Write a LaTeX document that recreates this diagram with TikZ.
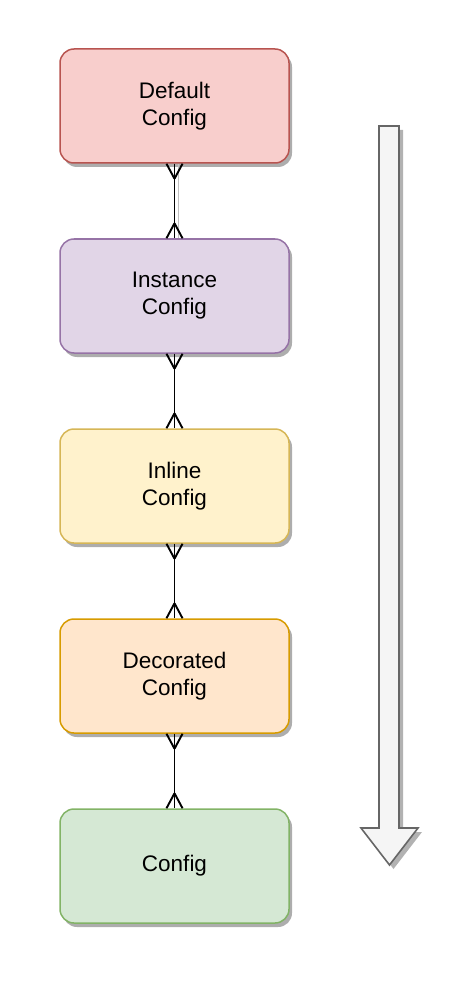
\documentclass[tikz,border=0pt]{standalone}
\usepackage{fontspec}
\setmainfont{Liberation Sans}
\usetikzlibrary{calc,shadows}
\definecolor{redfill}{HTML}{F8CECC}\definecolor{redline}{HTML}{B85450}
\definecolor{purfill}{HTML}{E1D5E7}\definecolor{purline}{HTML}{9673A6}
\definecolor{yelfill}{HTML}{FFF2CC}\definecolor{yelline}{HTML}{D6B656}
\definecolor{orafill}{HTML}{FFE6CC}\definecolor{oraline}{HTML}{D79B00}
\definecolor{grefill}{HTML}{D5E8D4}\definecolor{greline}{HTML}{82B366}
\definecolor{arrfill}{HTML}{F5F5F5}\definecolor{arrline}{HTML}{666666}
\tikzset{
  cfgbox/.style={draw=#1line, fill=#1fill, line width=1.5pt, rounded corners=14pt,
    minimum width=229pt, minimum height=114pt, align=center,
    font=\fontsize{22.5}{27}\selectfont,
    drop shadow={shadow xshift=3pt, shadow yshift=-4pt, fill=black!40, opacity=0.8}},
  link/.style={draw=black, line width=1.9pt},
}
\newcommand{\crowlink}[2]{%
  \draw[link] (#1.south) -- (#2.north);
  \draw[link] ($(#1.south)+(0,15)$) -- ($(#1.south)+(-8,0)$);
  \draw[link] ($(#1.south)+(0,15)$) -- ($(#1.south)+(8,0)$);
  \draw[link] ($(#2.north)+(0,-15)$) -- ($(#2.north)+(-8,0)$);
  \draw[link] ($(#2.north)+(0,-15)$) -- ($(#2.north)+(8,0)$);
}
\begin{document}
\begin{tikzpicture}[x=1pt,y=-1pt]
\useasboundingbox (0,0) rectangle (470,984);
\node[cfgbox=red] (def) at (174.5,106) {Default\\Config};
\node[cfgbox=pur] (ins) at (174.5,296) {Instance\\Config};
\node[cfgbox=yel] (inl) at (174.5,486) {Inline\\Config};
\node[cfgbox=ora] (dec) at (174.5,676) {Decorated\\Config};
\node[cfgbox=gre] (cfg) at (174.5,866) {Config};
\draw[black!25, line width=1.4pt] ($(def.south)+(4,0)$) -- ($(ins.north)+(4,0)$);
\crowlink{def}{ins}
\crowlink{ins}{inl}
\crowlink{inl}{dec}
\crowlink{dec}{cfg}
\fill[black!30] (383,130) -- (403,130) -- (403,832) -- (422,832) -- (393.5,869) -- (365,832) -- (383,832) -- cycle;
\draw[draw=arrline, fill=arrfill, line width=1.6pt] (379,126) -- (399,126) -- (399,828) -- (418,828) -- (389.5,865) -- (361,828) -- (379,828) -- cycle;
\end{tikzpicture}
\end{document}
